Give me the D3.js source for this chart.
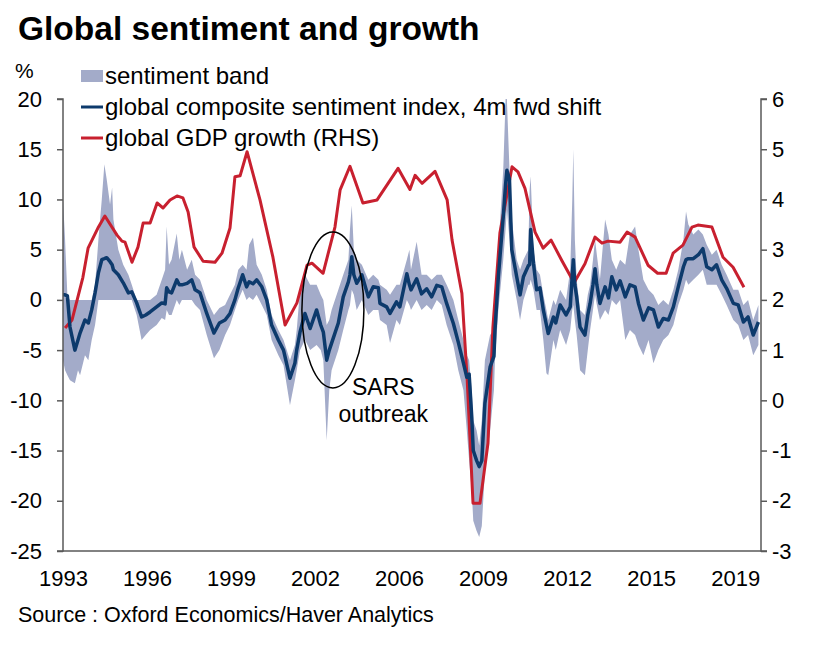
<!DOCTYPE html>
<html>
<head>
<meta charset="utf-8">
<script src="https://cdn.jsdelivr.net/npm/d3@7"></script>
<style>
  body { margin: 0; background: #fff; }
  svg { display: block; font-family: "Liberation Sans", Arial, sans-serif; }
</style>
</head>
<body>
<svg id="chart" width="819" height="650"></svg>
<script>
// ---- Data (decimal years) ----
const sentDates = [1993.00,1993.08,1993.17,1993.27,1993.46,1993.58,1993.66,1993.85,1993.98,1994.11,1994.24,1994.37,1994.50,1994.60,1994.69,1994.82,1994.90,1994.95,1995.14,1995.33,1995.53,1995.66,1995.85,1996.04,1996.20,1996.37,1996.62,1996.82,1996.95,1997.01,1997.10,1997.20,1997.40,1997.50,1997.60,1997.80,1997.98,1998.11,1998.30,1998.56,1998.84,1999.05,1999.27,1999.46,1999.65,1999.78,1999.95,2000.10,2000.20,2000.35,2000.49,2000.69,2000.88,2001.07,2001.33,2001.53,2001.78,2001.97,2002.04,2002.17,2002.36,2002.56,2002.81,2002.97,2003.07,2003.20,2003.30,2003.39,2003.65,2003.84,2004.04,2004.10,2004.17,2004.25,2004.36,2004.56,2004.81,2005.00,2005.20,2005.26,2005.52,2005.65,2005.90,2006.03,2006.30,2006.40,2006.46,2006.68,2006.87,2007.07,2007.26,2007.46,2007.65,2007.84,2008.10,2008.29,2008.49,2008.62,2008.71,2008.81,2008.87,2009.00,2009.10,2009.20,2009.32,2009.52,2009.67,2009.71,2009.84,2010.03,2010.12,2010.17,2010.27,2010.36,2010.55,2010.68,2010.81,2011.00,2011.05,2011.09,2011.20,2011.32,2011.45,2011.58,2011.70,2011.77,2011.97,2012.06,2012.23,2012.46,2012.62,2012.70,2012.74,2012.80,2012.87,2013.00,2013.19,2013.30,2013.39,2013.50,2013.58,2013.65,2013.77,2013.97,2014.10,2014.23,2014.40,2014.55,2014.75,2014.93,2015.13,2015.26,2015.45,2015.65,2015.84,2016.03,2016.22,2016.42,2016.61,2016.80,2017.00,2017.10,2017.19,2017.38,2017.58,2017.75,2017.90,2018.10,2018.28,2018.48,2018.67,2018.93,2019.12,2019.32,2019.50,2019.70,2019.90];
const sentIndex = [0.5,0.5,0.4,-2.7,-5.0,-4.0,-3.3,-2.0,-2.3,-1.0,0.7,2.7,4.0,4.1,4.2,3.8,3.5,3.0,2.5,1.7,0.7,0.8,-0.3,-1.7,-1.5,-1.2,-0.7,-0.3,-0.4,1.2,0.8,0.7,2.0,1.5,1.5,1.65,2.0,1.0,0.7,-1.35,-3.3,-2.3,-2.0,-1.35,0.0,1.2,2.5,1.3,1.8,1.6,2.0,1.3,0.0,-2.5,-4.0,-5.0,-7.8,-6.3,-5.0,-3.2,-1.35,-2.85,-1.0,-2.5,-3.2,-6.0,-5.0,-4.3,-2.3,0.3,1.8,2.5,4.3,2.5,1.65,2.5,0.3,1.3,1.2,-0.35,-0.7,-1.35,-0.2,-0.7,2.6,1.5,1.0,2.1,0.6,1.1,0.3,1.45,1.3,-0.35,-2.35,-4.2,-6.3,-7.7,-7.4,-11.6,-15.0,-16.0,-16.6,-16.0,-10.3,-6.7,-5.6,-3.0,2.3,8.3,11.5,12.9,12.0,5.0,2.3,0.5,2.3,3.4,3.5,7.0,3.6,1.0,1.2,-1.0,-2.5,-3.35,-1.7,-2.3,-0.5,-1.5,-0.7,2.5,4.0,1.5,0.3,-2.7,-3.5,-1.5,-0.35,1.5,3.1,1.5,-0.35,1.3,0.2,2.3,1.0,1.9,0.3,1.5,1.3,-0.35,-2.0,-0.8,-1.0,-2.7,-1.85,-2.0,-0.7,1.3,3.3,4.0,4.1,4.1,4.5,5.1,3.3,3.0,3.5,2.0,1.15,-0.35,-0.5,-2.2,-1.7,-3.5,-2.2];
const bandLow = [-6.0,-7.0,-7.5,-8.0,-8.3,-7.0,-7.5,-5.5,-6.0,-4.0,-2.5,0,0,0,0,0,0,0,0,0,0,0,-1.5,-4.0,-3.5,-3.0,-2.5,-1.8,-2.0,-1.0,-1.5,-1.5,0,-0.5,0,0,0,-0.5,-1.0,-3.5,-5.8,-5.0,-3.5,-2.5,-1.0,0,1.0,0,0.3,0,0.5,-0.5,-1.5,-4.0,-5.5,-6.5,-10.5,-8.0,-7.0,-5.0,-4.0,-5.0,-4.5,-5.0,-6.0,-14.0,-9.0,-7.0,-5.0,-3.0,-1.0,-0.5,1.0,0.5,-1.0,0,-1.5,-1.0,-1.0,-2.0,-2.5,-4.3,-2.0,-2.5,0,-0.5,-1.0,0,-1.0,-0.5,-1.0,0,-0.5,-2.5,-4.5,-7.0,-9.0,-13.0,-16.0,-19.0,-22.0,-23.0,-23.6,-22.5,-17.0,-13.0,-9.0,-6.0,-1.0,4.0,7.0,9.0,6.0,2.5,0,-2.0,0,1.5,1.5,2.0,1.0,-1.0,-1.0,-4.0,-7.3,-7.5,-4.0,-5.0,-3.0,-4.5,-3.0,-1.0,-0.5,-2.0,-3.5,-7.0,-7.5,-5.0,-3.0,-1.0,0.5,-0.5,-2.0,-1.0,-1.5,0,-0.5,0,-4.0,-3.0,-3.5,-4.5,-5.5,-4.0,-6.3,-5.0,-4.0,-3.5,-2.5,-0.5,1.0,2.0,1.5,2.0,2.5,3.0,1.5,1.5,1.5,0.5,-0.5,-2.0,-2.5,-4.0,-3.5,-5.5,-4.5];
const bandHigh = [10.0,6.0,0.4,0,0,0,0,0,0,0,1.5,6.0,10.0,13.5,12.0,9.5,11.2,8.0,5.0,3.5,2.5,1.5,0,0,0,0,0.5,2.0,3.0,7.3,3.5,4.0,6.6,4.0,5.0,3.0,4.0,2.5,2.0,0,-1.5,-0.8,-0.5,0.5,1.5,3.0,3.5,3.0,5.5,6.2,3.5,2.5,1.0,-1.5,-3.0,-4.0,-6.0,-4.5,-3.0,1.0,2.5,1.5,1.5,0.5,0,-2.5,-2.0,-1.0,1.0,2.5,4.0,7.0,9.4,5.0,4.0,3.5,2.0,2.5,2.0,1.5,1.0,0.5,1.5,1.5,4.0,5.0,3.0,5.8,2.5,2.5,2.0,2.5,2.5,1.5,0,-2.0,-4.0,-5.5,-6.0,-9.0,-12.0,-13.0,-14.5,-12.0,-6.0,-3.5,-3.0,0,5.0,13.0,20.0,20.0,13.0,8.0,4.0,3.0,4.0,5.0,11.0,12.3,5.0,3.0,2.5,0.5,-1.0,-2.0,0,-0.5,1.0,0,3.0,10.0,15.0,6.0,2.0,-1.0,-1.5,0.5,1.5,4.0,6.0,4.5,2.0,8.0,6.5,4.0,3.0,4.0,3.5,6.5,7.3,5.0,2.0,1.0,0.5,-0.5,0,-0.5,1.0,3.0,6.0,8.8,7.5,6.5,7.0,6.5,5.5,4.5,5.0,3.5,2.5,1.0,1.0,-0.5,0,-2.0,-0.5];

const gdpDates = [1993.08,1993.35,1993.77,1993.97,1994.35,1994.62,1995.09,1995.28,1995.40,1995.67,1995.90,1996.10,1996.37,1996.64,1996.87,1997.14,1997.41,1997.64,1997.84,1998.07,1998.42,1998.88,1999.15,1999.46,1999.65,1999.85,2000.12,2000.62,2001.12,2001.59,2002.05,2002.44,2002.63,2003.06,2003.52,2003.72,2004.10,2004.60,2005.15,2005.96,2006.42,2006.62,2006.89,2007.39,2007.86,2008.05,2008.43,2008.63,2008.86,2009.13,2009.44,2009.63,2009.90,2010.37,2010.60,2010.87,2011.26,2011.57,2011.88,2012.30,2012.77,2013.19,2013.58,2013.85,2014.08,2014.55,2014.82,2015.13,2015.63,2016.00,2016.33,2016.60,2016.98,2017.33,2017.56,2018.10,2018.53,2018.92,2019.34];
const gdpGrowth = [1.44,1.60,2.45,3.03,3.43,3.67,3.29,3.17,3.15,2.75,3.05,3.53,3.53,3.93,3.83,3.99,4.07,4.03,3.75,3.05,2.77,2.75,2.93,3.43,4.45,4.47,4.95,3.99,2.85,1.50,1.94,2.69,2.73,2.53,3.45,4.19,4.66,3.93,3.99,4.62,4.20,4.48,4.32,4.56,3.99,3.19,2.13,0.46,-2.05,-2.05,-0.85,1.46,3.33,4.65,4.55,4.22,3.35,3.03,3.19,2.78,2.34,2.72,3.25,3.13,3.17,3.15,3.35,3.25,2.69,2.53,2.53,2.93,3.09,3.45,3.49,3.45,2.85,2.65,2.25];

const xTickValues = [1993, 1996.25, 1999.5, 2002.75, 2006, 2009.25, 2012.5, 2015.75, 2019];
const yLeftTicks = [20,15,10,5,0,-5,-10,-15,-20,-25];
const yRightTicks = [6,5,4,3,2,1,0,-1,-2,-3];

const legendItems = [
  {label: "sentiment band", type: "band"},
  {label: "global composite sentiment index, 4m fwd shift", type: "index"},
  {label: "global GDP growth (RHS)", type: "gdp"}
];

const colors = { band: "#a3abc9", index: "#0d3a6c", gdp: "#c8202f", axis: "#595959", text: "#000" };

// ---- Scales ----
const svg = d3.select("#chart");
const x = d3.scaleLinear().domain([1993, 2020]).range([63, 761]);
const yL = d3.scaleLinear().domain([-25, 20]).range([551, 99]);
const yR = d3.scaleLinear().domain([-3, 6]).range([551, 99]);

const sent = sentDates.map((d, i) => ({t: d, v: sentIndex[i], lo: bandLow[i], hi: bandHigh[i]}));
const gdp = gdpDates.map((d, i) => ({t: d, v: gdpGrowth[i]}));

// band
svg.append("path")
  .datum(sent)
  .attr("fill", colors.band)
  .attr("d", d3.area().x(d => x(d.t)).y0(d => yL(d.lo)).y1(d => yL(d.hi)));

// GDP line
svg.append("path")
  .datum(gdp)
  .attr("fill", "none")
  .attr("stroke", colors.gdp)
  .attr("stroke-width", 3)
  .attr("stroke-linejoin", "round")
  .attr("d", d3.line().x(d => x(d.t)).y(d => yR(d.v)));

// sentiment index line
svg.append("path")
  .datum(sent)
  .attr("fill", "none")
  .attr("stroke", colors.index)
  .attr("stroke-width", 3.5)
  .attr("stroke-linejoin", "round")
  .attr("d", d3.line().x(d => x(d.t)).y(d => yL(d.v)));

// ---- Axes ----
const fmt = d => String(d);
const leftAxis = svg.append("g").attr("transform", "translate(63,0)")
  .call(d3.axisLeft(yL).tickValues(yLeftTicks).tickSize(6).tickPadding(15).tickFormat(fmt));
const rightAxis = svg.append("g").attr("transform", "translate(761,0)")
  .call(d3.axisRight(yR).tickValues(yRightTicks).tickSize(6).tickPadding(5).tickFormat(fmt));
const bottomAxis = svg.append("g").attr("transform", "translate(0,551)")
  .call(d3.axisBottom(x).tickValues(xTickValues).tickSize(0).tickPadding(19).tickFormat(d => String(Math.floor(d))));

[leftAxis, rightAxis, bottomAxis].forEach(g => {
  g.select(".domain").attr("stroke", colors.axis).attr("stroke-width", 1.5);
  g.selectAll(".tick line").attr("stroke", colors.axis).attr("stroke-width", 1.5);
  g.selectAll(".tick text").attr("font-size", 22).attr("fill", colors.text)
    .attr("font-family", "Liberation Sans, Arial, sans-serif");
});
leftAxis.select(".domain").attr("d", "M-6,99H0V551H-6");
rightAxis.select(".domain").attr("d", "M6,99H0V551H6");
bottomAxis.select(".domain").attr("d", "M63,0H761");

// ---- SARS annotation ----
svg.append("ellipse")
  .attr("cx", x(2003.44)).attr("cy", yL(-1.0))
  .attr("rx", 31).attr("ry", 78)
  .attr("fill", "none").attr("stroke", "#000").attr("stroke-width", 1.5);
svg.append("text").attr("x", x(2005.39)).attr("y", yL(-9.5))
  .attr("text-anchor", "middle").attr("font-size", 23).text("SARS");
svg.append("text").attr("x", x(2005.39)).attr("y", yL(-12.2))
  .attr("text-anchor", "middle").attr("font-size", 23).text("outbreak");

// ---- Title, unit, source ----
svg.append("text").attr("x", 18).attr("y", 40)
  .attr("font-size", 33.5).attr("font-weight", "bold").text("Global sentiment and growth");
svg.append("text").attr("x", 15).attr("y", 78).attr("font-size", 21).text("%");
svg.append("text").attr("x", 18).attr("y", 622).attr("font-size", 21.5)
  .text("Source : Oxford Economics/Haver Analytics");

// ---- Legend ----
const lg = svg.append("g");
legendItems.forEach((it, i) => {
  const cy = 76 + i * 31;
  if (it.type === "band") {
    lg.append("rect").attr("x", 81).attr("y", cy - 6).attr("width", 22).attr("height", 12).attr("fill", colors.band);
  } else {
    lg.append("line").attr("x1", 81).attr("x2", 103).attr("y1", cy).attr("y2", cy)
      .attr("stroke", it.type === "index" ? colors.index : colors.gdp).attr("stroke-width", 3);
  }
  lg.append("text").attr("x", 105).attr("y", cy + 7.5).attr("font-size", 24).text(it.label);
});
</script>
</body>
</html>
